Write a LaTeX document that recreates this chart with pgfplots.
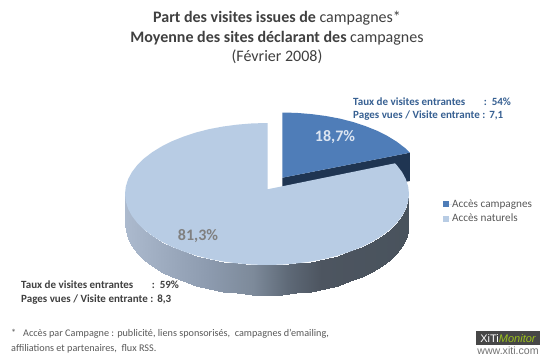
\documentclass[border=0pt]{standalone}
\usepackage{pgfplots}
\usepackage{fontspec}
\setmainfont{Carlito}
\newfontfamily\logofont{Liberation Sans}
\pgfplotsset{compat=1.18}
\definecolor{camp}{HTML}{4F7DB8}
\definecolor{natu}{HTML}{B8CCE4}
\definecolor{dark}{HTML}{1F3552}
\definecolor{ttl}{HTML}{404040}
\definecolor{annb}{HTML}{376092}
\definecolor{leg}{HTML}{595959}
\begin{document}
\begin{tikzpicture}
\begin{axis}[
  scale only axis, width=550pt, height=362pt,
  xmin=0, xmax=550, ymin=0, ymax=362, y dir=reverse,
  axis lines=none, axis background/.style={fill=white},
  colormap={side}{rgb255(0)=(172,186,206) rgb255(30)=(140,154,174) rgb255(45)=(125,138,154) rgb255(57)=(95,106,120) rgb255(69)=(77,85,96) rgb255(100)=(73,83,93)},
  point meta min=125, point meta max=409,
  legend style={at={(axis cs:443,199.5)}, anchor=north west, draw=none, fill=none,
    font=\fontsize{11.2}{13}\selectfont\color{leg}, row sep=5.2pt, inner sep=0pt,
    nodes={inner sep=0pt, outer sep=0pt}},
  legend cell align=left,
  legend image code/.code={\fill[#1, draw=none] (0pt,-3pt) rectangle (6pt,3pt); \path (0pt,0pt) -- (9pt,0pt);},
]
% side of the campaign slice
\addplot[fill=dark, draw=none, forget plot] coordinates {(282.3,177.7) (409.9,152.7) (409.9,181) (282.3,207)} -- cycle;
% campaign slice
\addplot[fill=camp, draw=none] coordinates {
(282.3,177.7) (282.3,112.5) (296.8,112.9) (311.5,114.1) (325.9,116) (339.8,118.6) (353,122) (365.5,126.1) (377,130.7) (387.5,136) (396.9,141.8) (405,148) (409.9,152.7)
} -- cycle;
\addlegendentry{Accès campagnes}
% side of the natural slice
\addplot[surf, shader=interp, mesh/rows=2, point meta=x, forget plot] coordinates {
(409,194) (408.2,201.4) (405.9,208.8) (402.1,215.9) (396.7,222.9) (390,229.5) (381.9,235.7) (372.5,241.5) (362,246.8) (350.5,251.4) (338,255.5) (324.8,258.9) (310.9,261.5) (296.5,263.4) (281.8,264.6) (267,265) (252.2,264.6) (237.5,263.4) (223.1,261.5) (209.2,258.9) (196,255.5) (183.5,251.4) (172,246.8) (161.5,241.5) (152.1,235.7) (144,229.5) (137.3,222.9) (131.9,215.9) (128.1,208.8) (125.8,201.4) (125,194)

(409,224) (408.2,231.4) (405.9,238.8) (402.1,245.9) (396.7,252.9) (390,259.5) (381.9,265.7) (372.5,271.5) (362,276.8) (350.5,281.4) (338,285.5) (324.8,288.9) (310.9,291.5) (296.5,293.4) (281.8,294.6) (267,295) (252.2,294.6) (237.5,293.4) (223.1,291.5) (209.2,288.9) (196,285.5) (183.5,281.4) (172,276.8) (161.5,271.5) (152.1,265.7) (144,259.5) (137.3,252.9) (131.9,245.9) (128.1,238.8) (125.8,231.4) (125,224)
};
% natural slice
\addplot[fill=natu, draw=none] coordinates {
(267.5,189.3) (395,163.3) (396.7,165.1) (402.1,172.1) (405.9,179.2) (408.2,186.6) (409,194)
(408.2,201.4) (405.9,208.8) (402.1,215.9) (396.7,222.9) (390,229.5) (381.9,235.7) (372.5,241.5) (362,246.8) (350.5,251.4) (338,255.5) (324.8,258.9) (310.9,261.5) (296.5,263.4) (281.8,264.6) (267,265) (252.2,264.6) (237.5,263.4) (223.1,261.5) (209.2,258.9) (196,255.5) (183.5,251.4) (172,246.8) (161.5,241.5) (152.1,235.7) (144,229.5) (137.3,222.9) (131.9,215.9) (128.1,208.8) (125.8,201.4) (125,194)
(125.8,186.6) (128.1,179.2) (131.9,172.1) (137.3,165.1) (144,158.5) (152.1,152.3) (161.5,146.5) (172,141.2) (183.5,136.6) (196,132.5) (209.2,129.1) (223.1,126.5) (237.5,124.6) (252.2,123.4) (267.5,123)
} -- cycle;
\addlegendentry{Accès naturels}

% texts
\node[anchor=center, text=ttl, align=center, font=\fontsize{16}{19.5}\selectfont] at (axis cs:277,37.5)
  {\textbf{Part des visites issues de} campagnes*\\ \textbf{Moyenne des sites déclarant des} campagnes\\ (Février 2008)};
\node[anchor=west, text=annb, align=left, font=\fontsize{11}{13.7}\selectfont\bfseries, inner sep=0pt] at (axis cs:353,109)
  {Taux de visites entrantes\hspace{1.45em} :\ \ 54\%\\ Pages vues / Visite entrante :\ \hspace{1.5pt}7,1};
\node[anchor=west, text=ttl, align=left, font=\fontsize{11}{13.5}\selectfont\bfseries, inner sep=0pt] at (axis cs:21,292.5)
  {Taux de visites entrantes\hspace{1.45em} :\ \ 59\%\\ Pages vues / Visite entrante :\ \hspace{1.5pt}8,3};
\node[anchor=center, text=natu!50!white, font=\fontsize{16}{18}\selectfont\bfseries] at (axis cs:335,137) {18,7\%};
\node[anchor=center, text=black!50, font=\fontsize{16}{18}\selectfont\bfseries] at (axis cs:198,236) {81,3\%};
\node[anchor=west, text=leg, align=left, font=\fontsize{10.2}{15}\selectfont, inner sep=0pt] at (axis cs:11,341)
  {*\ \ \ Accès par Campagne : publicité, liens sponsorisés,\ \ campagnes d'emailing,\\ affiliations et partenaires,\ \ flux RSS.};
% logo
\fill[black!72] (axis cs:476,331) rectangle (axis cs:540,345);
\node[anchor=center, inner sep=0pt, font=\logofont\fontsize{11}{12}\selectfont] at (axis cs:508,338.2)
  {\textcolor{white}{XiTi}\textcolor[HTML]{9CC31C}{\itshape Monitor}};
\node[anchor=center, inner sep=0pt, text=black!55, font=\logofont\fontsize{10.6}{11}\selectfont] at (axis cs:508,351) {www.xiti.com};
\end{axis}
\end{tikzpicture}
\end{document}
